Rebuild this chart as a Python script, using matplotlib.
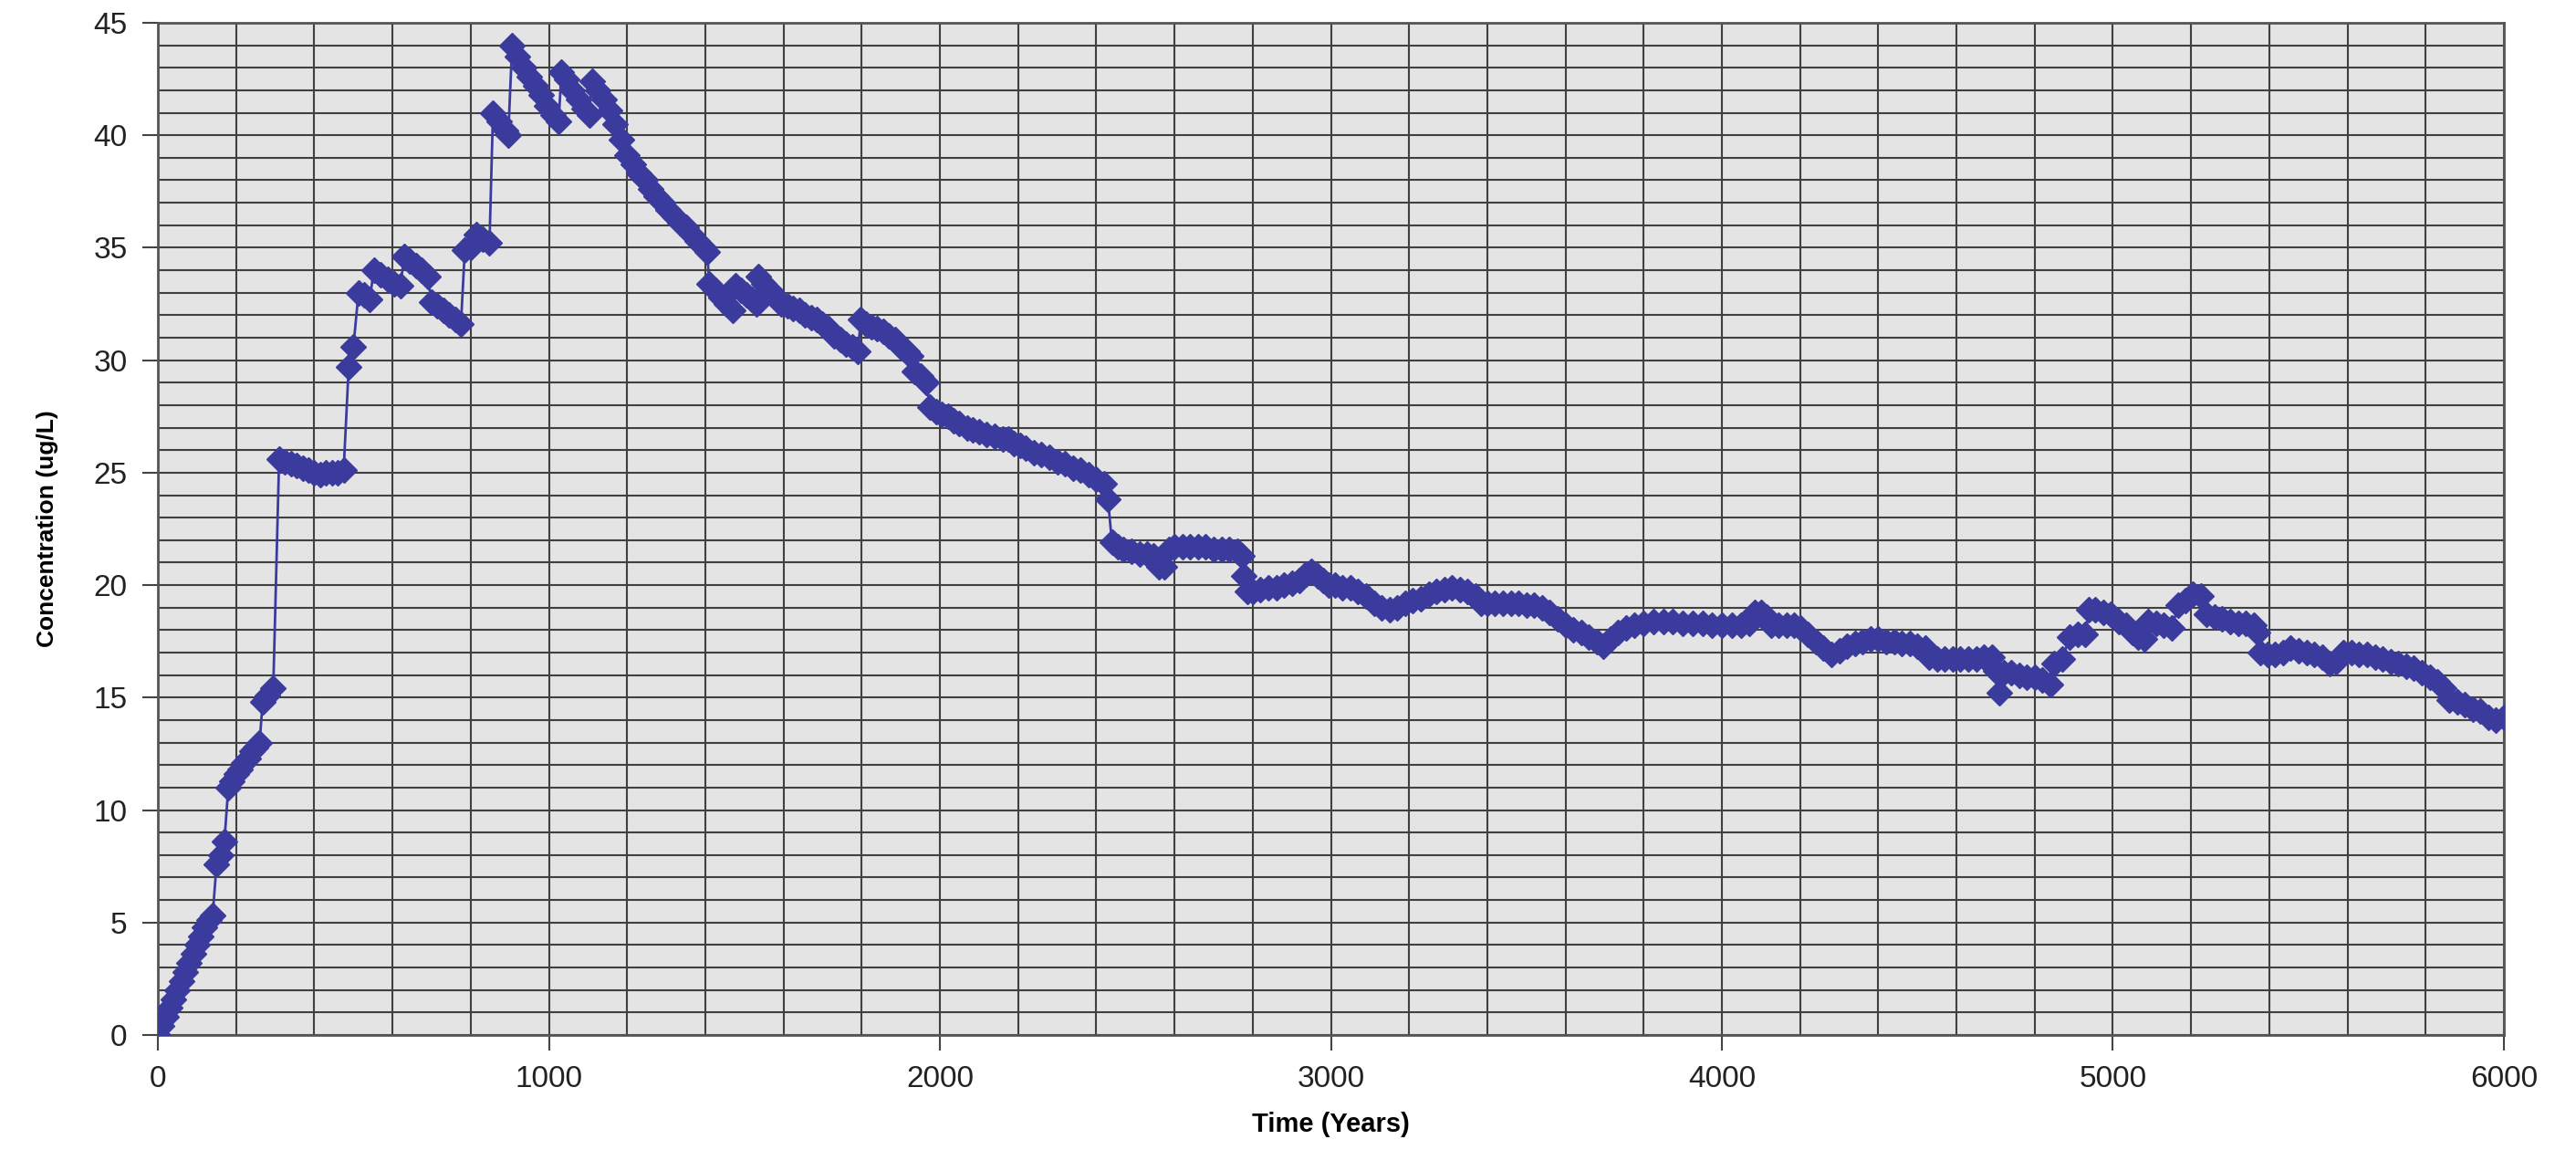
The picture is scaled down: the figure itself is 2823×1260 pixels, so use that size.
import matplotlib
matplotlib.use("Agg")
import matplotlib.pyplot as plt
from matplotlib.ticker import MultipleLocator

# time (years) and concentration (ug/L)
years = [0, 10, 20, 30, 40, 50, 60, 70, 80, 90, 100, 110, 120, 130, 140,
         150, 160, 170,
         180, 190, 200, 210, 220, 230, 240, 250, 260,
         268, 280, 295,
         310, 325, 340, 355, 370, 385, 400, 415, 430, 445, 460, 475,
         488, 500, 513, 528, 542,
         552, 570, 588, 605, 620,
         630, 645, 660, 675, 690,
         700, 715, 730, 745, 760, 775,
         785, 800, 815, 830, 848,
         857, 872, 888, 896,
         906, 920, 935, 950, 965, 980, 995, 1010, 1025,
         1032, 1045, 1060, 1075, 1090, 1103,
         1110, 1125, 1140, 1155, 1170, 1185, 1200, 1215, 1230, 1245, 1260, 1275,
         1290, 1305, 1320, 1335, 1350, 1365, 1380, 1395, 1405,
         1410, 1425, 1440, 1455, 1470,
         1478, 1492, 1505, 1520, 1530,
         1535, 1550, 1565, 1580, 1595, 1610, 1625, 1640, 1655, 1670, 1685, 1700,
         1715, 1730, 1745, 1760, 1775, 1790,
         1798, 1812, 1826, 1840, 1855, 1870, 1885, 1900, 1915, 1925,
         1935, 1950, 1965,
         1975, 1990, 2005, 2020, 2035, 2050, 2070, 2085, 2100, 2120, 2140, 2160,
         2175, 2190, 2205, 2220, 2240, 2260, 2280, 2300, 2320, 2340, 2360, 2380,
         2400, 2420, 2430,
         2440, 2455, 2470, 2490, 2510, 2530, 2545, 2560, 2575,
         2585, 2600, 2620, 2640, 2660, 2680, 2700, 2720, 2740, 2760, 2772,
         2778, 2786, 2800, 2820, 2840, 2860, 2880, 2900, 2920, 2935, 2950, 2965,
         2980, 2995, 3010, 3030, 3050, 3070, 3090, 3110, 3130, 3150, 3170, 3190,
         3210, 3230, 3250, 3270, 3290, 3310, 3330, 3350, 3370, 3385, 3400, 3420,
         3440, 3460, 3480, 3500, 3520, 3540, 3560, 3580, 3600, 3620, 3640, 3660,
         3680, 3697, 3715, 3735, 3755, 3775, 3800, 3825, 3850, 3875, 3900, 3925,
         3950, 3975, 4000, 4025, 4050, 4070,
         4085, 4100, 4115, 4125, 4145, 4165, 4185, 4200, 4220, 4240, 4260, 4280,
         4300, 4320, 4340, 4360, 4380, 4400, 4420, 4440, 4460, 4480, 4500, 4520,
         4530, 4550, 4570, 4590, 4610, 4630, 4650, 4670, 4690,
         4700, 4710, 4722, 4740, 4760, 4780, 4800, 4820, 4840,
         4850, 4870, 4890, 4910, 4930,
         4938, 4955, 4975, 4995, 5015, 5035, 5050, 5065, 5080,
         5090, 5110, 5130, 5150,
         5168, 5185, 5205, 5225, 5240, 5260, 5280, 5300, 5320, 5340, 5360, 5370,
         5378, 5395, 5415, 5435, 5455, 5475, 5495, 5515, 5535, 5555, 5570,
         5590, 5610, 5630, 5650, 5670, 5690, 5710, 5730, 5750, 5770, 5790, 5810,
         5830, 5845, 5860, 5880, 5900, 5920, 5940, 5960, 5980, 6000]

conc = [0.0, 0.4, 0.8, 1.2, 1.6, 2.0, 2.4, 2.8, 3.2, 3.6, 4.0, 4.4, 4.8, 5.1, 5.3,
        7.6, 8.0, 8.6,
        11.0, 11.3, 11.6, 11.8, 12.1, 12.3, 12.6, 12.8, 13.0,
        14.8, 15.1, 15.4,
        25.6, 25.5, 25.4, 25.3, 25.2, 25.1, 25.0, 24.9, 25.0, 25.0, 25.0, 25.1,
        29.7, 30.6, 33.0, 32.9, 32.7,
        34.0, 33.8, 33.6, 33.4, 33.3,
        34.6, 34.4, 34.2, 34.0, 33.7,
        32.6, 32.4, 32.2, 32.0, 31.8, 31.6,
        34.9, 35.0, 35.6, 35.4, 35.2,
        41.0, 40.6, 40.2, 40.0,
        44.0, 43.5, 43.0, 42.6, 42.2, 41.8, 41.3, 40.9, 40.6,
        42.8, 42.5, 42.0, 41.6, 41.2, 40.9,
        42.4, 42.0, 41.6, 41.1, 40.5, 39.8, 39.1, 38.7, 38.3, 38.0, 37.6, 37.3,
        37.0, 36.7, 36.4, 36.1, 35.9, 35.6, 35.3, 35.0, 34.8,
        33.4, 33.1, 32.8, 32.5, 32.2,
        33.3, 33.1, 32.9, 32.7, 32.5,
        33.7, 33.4, 33.1, 32.8, 32.5, 32.4, 32.3, 32.2, 32.0, 31.9, 31.8, 31.6,
        31.4, 31.1, 30.9, 30.7, 30.6, 30.4,
        31.8, 31.6, 31.5, 31.4, 31.3, 31.1, 30.9, 30.6, 30.4, 30.2,
        29.5, 29.3, 29.0,
        27.9, 27.7, 27.6, 27.5, 27.3, 27.2, 27.0, 26.9, 26.8, 26.7, 26.6, 26.5,
        26.5, 26.3, 26.2, 26.1, 25.9, 25.8, 25.7, 25.5, 25.4, 25.2, 25.1, 24.9,
        24.7, 24.5, 23.8,
        21.9, 21.7, 21.6, 21.5, 21.4, 21.4, 21.3, 20.8, 20.8,
        21.6, 21.7, 21.7, 21.7, 21.7, 21.7, 21.6, 21.6, 21.6, 21.5, 21.3,
        20.4, 19.7, 19.7, 19.8, 19.9, 19.9, 20.0, 20.1, 20.2, 20.5, 20.6, 20.4,
        20.2, 20.0, 20.0, 19.9, 19.9, 19.7, 19.5, 19.2, 19.0, 18.9, 19.0, 19.2,
        19.3, 19.4, 19.6, 19.7, 19.8, 19.9, 19.8, 19.7, 19.5, 19.2, 19.2, 19.2,
        19.2, 19.2, 19.2, 19.1, 19.1, 19.0, 18.8, 18.5, 18.2, 18.0, 17.9, 17.7,
        17.5, 17.3, 17.6, 17.9, 18.1, 18.2, 18.3, 18.4, 18.4, 18.4, 18.3, 18.3,
        18.3, 18.2, 18.2, 18.2, 18.2, 18.3,
        18.8, 18.8, 18.6, 18.2, 18.2, 18.2, 18.2, 18.1, 17.8, 17.5, 17.2, 16.9,
        17.1, 17.3, 17.4, 17.5, 17.6, 17.6, 17.5, 17.5, 17.4, 17.4, 17.3, 17.2,
        16.8, 16.7, 16.7, 16.7, 16.7, 16.7, 16.7, 16.8, 16.8,
        16.2, 15.2, 16.1, 16.1, 16.0, 15.9, 15.9, 15.8, 15.6,
        16.5, 16.7, 17.7, 17.8, 17.8,
        18.9, 18.9, 18.8, 18.7, 18.4, 18.2, 17.9, 17.7, 17.6,
        18.4, 18.3, 18.2, 18.1,
        19.1, 19.3, 19.6, 19.5, 18.7, 18.6, 18.5, 18.4, 18.3, 18.3, 18.2, 17.9,
        17.0, 16.9, 16.9, 17.0, 17.2, 17.1, 17.0, 16.9, 16.8, 16.5, 16.6,
        17.0, 17.0, 16.9, 16.9, 16.8, 16.7, 16.6, 16.5, 16.4, 16.3, 16.1, 15.9,
        15.7, 15.4, 14.9, 14.8, 14.7, 14.5, 14.4, 14.1, 14.0, 14.1]

plt.rcParams['font.family'] = ['Liberation Sans', 'DejaVu Sans']

fig = plt.figure(figsize=(28.23, 12.6), dpi=100)
ax = fig.add_axes([0.0613, 0.1, 0.9107, 0.8802])
ax.set_facecolor('#e4e4e4')

ax.plot(years, conc, color='#3b3b9e', linewidth=2, marker='D', markersize=14,
        markerfacecolor='#3b3b9e', markeredgecolor='#3b3b9e', zorder=3)

ax.set_xlim(0, 6000)
ax.set_ylim(0, 45)
ax.xaxis.set_major_locator(MultipleLocator(1000))
ax.xaxis.set_minor_locator(MultipleLocator(200))
ax.yaxis.set_major_locator(MultipleLocator(5))
ax.yaxis.set_minor_locator(MultipleLocator(1))
ax.grid(which='both', color='#404040', linewidth=1.5)
ax.set_axisbelow(True)

ax.tick_params(which='major', labelsize=24, length=12, width=1.5, color='#444444',
               labelcolor='#222222', pad=12)
ax.tick_params(which='minor', length=0)
for s in ax.spines.values():
    s.set_color('#555555')
    s.set_linewidth(2)

ax.set_xlabel('Time (Years)', fontsize=21, fontweight='bold', labelpad=14)
ax.set_ylabel('Concentration (ug/L)', fontsize=19, fontweight='bold', labelpad=28)

fig.savefig('out.png', dpi=100, facecolor='white')
